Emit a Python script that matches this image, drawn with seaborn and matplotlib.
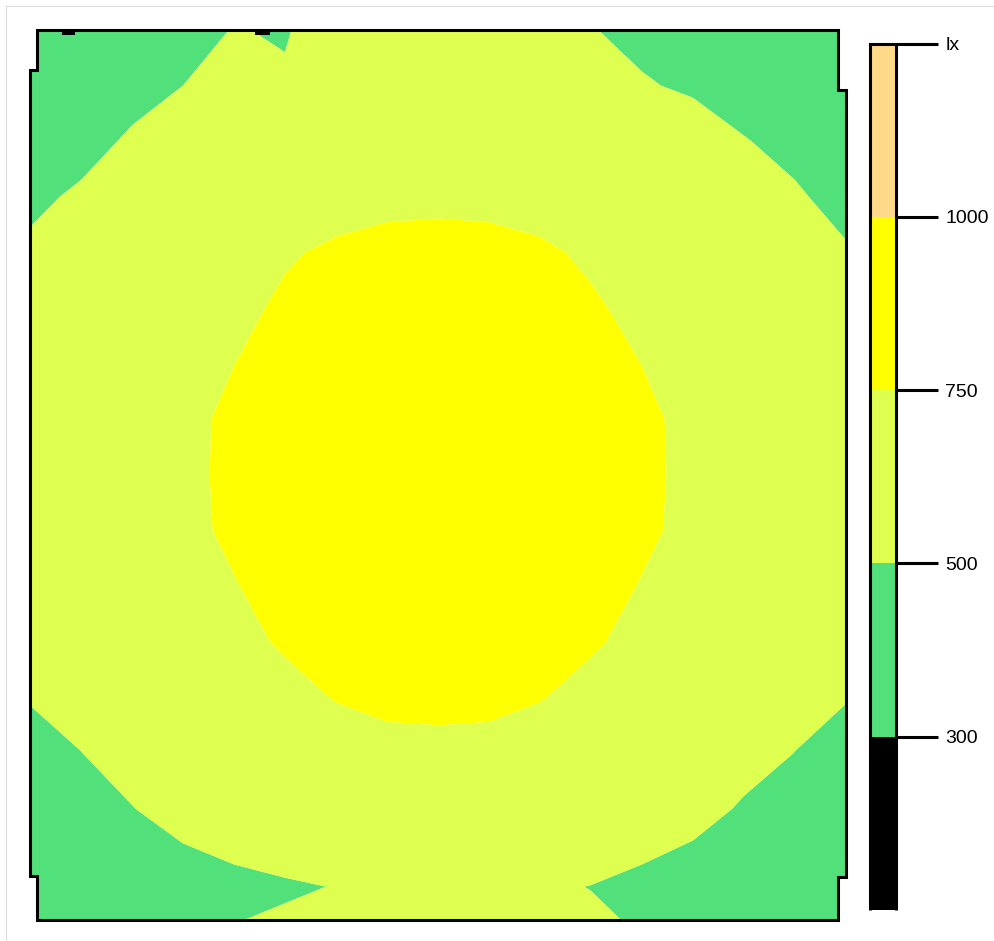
import numpy as np
import matplotlib
matplotlib.use("Agg")
import matplotlib.pyplot as plt
import seaborn as sns
from matplotlib.colors import ListedColormap
from matplotlib.patches import Polygon, Rectangle
from matplotlib.lines import Line2D

# ---------------- data ----------------
# calculation grid (metres)
x_m = np.round(np.linspace(0, 8.16, 17), 3)
y_m = [0.0, 0.334] + list(np.round(np.linspace(0, 8.9, 17)[1:], 3))

# illuminance values (lx), rows listed from the top wall (y=8.9) down to y=0
lux_rows = [
    [315, 366, 414, 455, 505, 490, 570, 560, 555, 550, 535, 505, 470, 440, 400, 360, 320],
    [380, 425, 470, 500, 554, 515, 604, 612, 617, 612, 600, 570, 510, 483, 455, 420, 370],
    [430, 470, 512, 566, 604, 634, 657, 670, 674, 670, 657, 634, 600, 560, 505, 470, 425],
    [482, 513, 566, 612, 655, 690, 712, 725, 728, 725, 712, 690, 655, 612, 566, 513, 465],
    [515, 556, 606, 655, 695, 740, 765, 780, 785, 780, 765, 735, 695, 655, 606, 556, 510],
    [530, 580, 635, 684, 725, 766, 790, 808, 815, 808, 790, 762, 726, 684, 635, 580, 530],
    [545, 604, 657, 707, 749, 789, 818, 838, 845, 838, 818, 789, 749, 707, 657, 604, 545],
    [556, 612, 670, 725, 770, 806, 838, 860, 868, 860, 838, 806, 770, 725, 670, 612, 556],
    [560, 617, 674, 726, 772, 812, 845, 868, 880, 868, 845, 812, 772, 726, 674, 617, 560],
    [556, 612, 670, 725, 768, 806, 838, 860, 868, 860, 838, 806, 768, 725, 670, 612, 556],
    [545, 604, 657, 707, 745, 789, 818, 838, 845, 838, 818, 789, 745, 707, 657, 604, 545],
    [530, 578, 634, 683, 726, 760, 789, 806, 812, 806, 789, 760, 726, 683, 634, 578, 530],
    [505, 554, 604, 653, 693, 724, 754, 775, 778, 775, 754, 724, 693, 653, 604, 554, 505],
    [470, 498, 566, 612, 653, 683, 710, 718, 722, 718, 710, 683, 653, 612, 566, 498, 460],
    [420, 455, 495, 566, 604, 634, 657, 670, 674, 670, 657, 634, 604, 566, 480, 430, 405],
    [360, 420, 440, 460, 500, 530, 560, 575, 580, 575, 565, 540, 500, 450, 430, 410, 370],
    [340, 390, 420, 445, 470, 480, 505, 530, 540, 535, 520, 497, 470, 440, 420, 400, 360],
    [320, 370, 410, 450, 495, 520, 540, 550, 554, 550, 540, 520, 486, 450, 410, 370, 330],
]

# isolux levels and legend
iso_levels = [300, 500, 750, 1000]
legend_labels = ["300", "500", "750", "1000", "lx"]
band_colors = ["#000000", "#52E07A", "#DEFF50", "#FFFF00", "#FFD98A"]

# room outline (metres)
room_outline = [(0.07, 0.0), (8.08, 0.0), (8.08, 0.43), (8.16, 0.43), (8.16, 8.30),
                (8.08, 8.30), (8.08, 8.90), (0.07, 8.90), (0.07, 8.50), (0.0, 8.50),
                (0.0, 0.44), (0.07, 0.44)]
top_marks = [(0.32, 0.45), (2.25, 2.40)]

# ---------------- figure ----------------
sns.set_style("white")
plt.rcParams["font.family"] = ["Liberation Sans", "DejaVu Sans"]

W, H = 994, 941
fig = plt.figure(figsize=(W / 100, H / 100), dpi=100)
fig.patch.set_facecolor("white")

ax = fig.add_axes([30 / W, 21 / H, 816 / W, 890 / H])
ax.set_xlim(0, 8.16)
ax.set_ylim(0, 8.9)
ax.axis("off")

Z = np.array(lux_rows[::-1], dtype=float)
bounds = [0] + iso_levels + [1500]
cs = ax.contourf(x_m, y_m, Z, levels=bounds, colors=band_colors, antialiased=True)

room = Polygon(room_outline, closed=True, facecolor="none", edgecolor="black",
               linewidth=2.2, joinstyle="miter", clip_on=False, zorder=5)
ax.add_patch(room)
cs.set_clip_path(room)

for x0, x1 in top_marks:
    ax.add_patch(Rectangle((x0, 8.855), x1 - x0, 0.045, facecolor="black",
                           edgecolor="none", clip_on=False, zorder=6))

# legend strip
cax = fig.add_axes([869.5 / W, (H - 910) / H, 26 / W, (910 - 43.5) / H])
band_idx = np.arange(len(band_colors))[::-1].reshape(-1, 1)
sns.heatmap(band_idx, cmap=ListedColormap(band_colors), vmin=-0.5,
            vmax=len(band_colors) - 0.5, cbar=False, ax=cax,
            xticklabels=False, yticklabels=False)
cax.set_yticks(np.arange(len(legend_labels)))
cax.set_yticklabels(legend_labels[::-1], rotation=0)
cax.tick_params(axis="y", left=False, labelleft=False, right=True, labelright=True,
                length=30, width=2.2, pad=6, labelsize=14, color="black",
                labelcolor="black", direction="out")
cax.tick_params(axis="x", bottom=False, labelbottom=False)
for s in ["left", "right", "top"]:
    cax.spines[s].set_visible(True)
    cax.spines[s].set_linewidth(2.2)
    cax.spines[s].set_color("black")
cax.spines["left"].set_capstyle("butt")
cax.spines["right"].set_capstyle("butt")
cax.spines["bottom"].set_visible(False)

# faint frame
fig.add_artist(Line2D([6 / W, 6 / W], [0, 1 - 6 / H], color="#dcdcdc", lw=0.8))
fig.add_artist(Line2D([6 / W, 1], [1 - 6 / H, 1 - 6 / H], color="#dcdcdc", lw=0.8))

fig.savefig("out.png", dpi=100, facecolor="white")
